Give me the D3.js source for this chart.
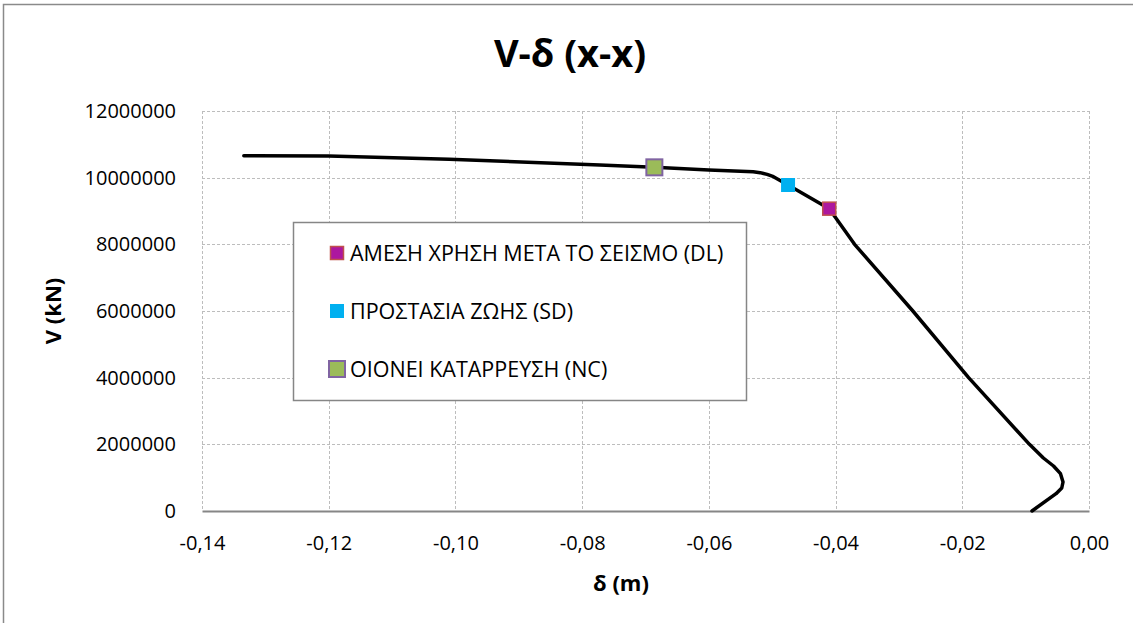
<!DOCTYPE html>
<html>
<head>
<meta charset="utf-8">
<script src="https://cdn.jsdelivr.net/npm/d3@7"></script>
<style>
	body { margin: 0; background: #fff; }
	svg text { font-family: "Open Sans", "Noto Sans", sans-serif; fill: #000; }
</style>
</head>
<body>
<svg id="chart" width="1133" height="623"></svg>
<script>

// pushover curve
var deltaValues = [-0.1334, -0.120, -0.101, -0.0772, -0.0686, -0.060, -0.0530, -0.0519, -0.0508, -0.0498,
	-0.0475, -0.0410, -0.0370, -0.0278, -0.0190, -0.0094, -0.0072, -0.0056, -0.0045, -0.0041, -0.0043,
	-0.0052, -0.0090];
var shearValues = [10660000, 10650000, 10550000, 10380000, 10310000, 10230000, 10180000, 10150000, 10100000, 10030000,
	9780000, 9070000, 8000000, 6000000, 4000000, 2000000, 1590000, 1350000, 1120000, 870000, 690000,
	520000, 0];

// performance levels
var levelNames = ["ΑΜΕΣΗ ΧΡΗΣΗ ΜΕΤΑ ΤΟ ΣΕΙΣΜΟ (DL)", "ΠΡΟΣΤΑΣΙΑ ΖΩΗΣ (SD)", "ΟΙΟΝΕΙ ΚΑΤΑΡΡΕΥΣΗ (NC)"];
var levelDelta = [-0.0410, -0.0475, -0.0686];
var levelShear = [9070000, 9780000, 10310000];

var xTicks = [-0.14, -0.12, -0.10, -0.08, -0.06, -0.04, -0.02, 0.00];
var yTicks = [0, 2000000, 4000000, 6000000, 8000000, 10000000, 12000000];

var levelStyles = [
	{ fill: "#AD179F", stroke: "#C0504D", strokeWidth: 1.5, size: 13 },
	{ fill: "#00B0F0", stroke: "none", strokeWidth: 0, size: 14 },
	{ fill: "#9BBB59", stroke: "#8064A2", strokeWidth: 2, size: 16 }
];

var svg = d3.select("#chart");
var plot = { left: 202, right: 1089, top: 111, bottom: 511 };

var x = d3.scaleLinear().domain([-0.14, 0]).range([plot.left, plot.right]);
var y = d3.scaleLinear().domain([0, 12000000]).range([plot.bottom, plot.top]);

var fmtX = function(d) { return d3.format(".2f")(d).replace(".", ",").replace("−", "-"); };

// chart frame (runs off the bottom/right of the picture)
svg.append("rect")
	.attr("x", 3.5).attr("y", 4.5)
	.attr("width", 1140).attr("height", 640)
	.attr("fill", "none")
	.attr("stroke", "#8a8a8a")
	.attr("stroke-width", 1.5);

// gridlines
var grid = svg.append("g").attr("stroke", "#bdbdbd").attr("stroke-width", 1).attr("stroke-dasharray", "3,2");
grid.selectAll("line.h")
	.data(yTicks.filter(function(d) { return d > 0; }))
	.enter().append("line")
	.attr("x1", plot.left).attr("x2", plot.right)
	.attr("y1", function(d) { return Math.round(y(d)) + 0.5; })
	.attr("y2", function(d) { return Math.round(y(d)) + 0.5; });
grid.selectAll("line.v")
	.data(xTicks)
	.enter().append("line")
	.attr("y1", plot.top).attr("y2", plot.bottom)
	.attr("x1", function(d) { return Math.round(x(d)) + 0.5; })
	.attr("x2", function(d) { return Math.round(x(d)) + 0.5; });

// x axis
var xAxis = svg.append("g")
	.attr("transform", "translate(0," + plot.bottom + ")")
	.call(d3.axisBottom(x).tickValues(xTicks).tickFormat(fmtX).tickSize(0).tickPadding(25));
xAxis.select(".domain").attr("stroke", "#868686").attr("stroke-width", 2);
xAxis.selectAll("text").attr("font-size", 20).attr("font-family", null).attr("fill", "#000");

// y axis
var yAxis = svg.append("g")
	.attr("transform", "translate(" + plot.left + ",0)")
	.call(d3.axisLeft(y).tickValues(yTicks).tickFormat(d3.format("d")).tickSize(0).tickPadding(26));
yAxis.select(".domain").remove();
yAxis.selectAll("text").attr("font-size", 20).attr("font-family", null).attr("fill", "#000");

// titles
svg.append("text")
	.attr("x", 570).attr("y", 67)
	.attr("text-anchor", "middle")
	.attr("font-size", 38).attr("font-weight", "bold")
	.text("V-δ (x-x)");

svg.append("text")
	.attr("x", 621).attr("y", 591)
	.attr("text-anchor", "middle")
	.attr("font-size", 22).attr("font-weight", "bold")
	.text("δ (m)");

svg.append("text")
	.attr("transform", "translate(61,311) rotate(-90)")
	.attr("text-anchor", "middle")
	.attr("font-size", 22).attr("font-weight", "bold")
	.text("V (kN)");

// curve
var points = deltaValues.map(function(d, i) { return [d, shearValues[i]]; });
var line = d3.line()
	.x(function(d) { return x(d[0]); })
	.y(function(d) { return y(d[1]); });

svg.append("path")
	.datum(points)
	.attr("d", line)
	.attr("fill", "none")
	.attr("stroke", "#000")
	.attr("stroke-width", 3.5)
	.attr("stroke-linejoin", "round")
	.attr("stroke-linecap", "round");

// level markers
svg.selectAll("rect.level")
	.data(levelDelta)
	.enter().append("rect")
	.attr("class", "level")
	.attr("x", function(d, i) { return x(d) - levelStyles[i].size / 2; })
	.attr("y", function(d, i) { return y(levelShear[i]) - levelStyles[i].size / 2; })
	.attr("width", function(d, i) { return levelStyles[i].size; })
	.attr("height", function(d, i) { return levelStyles[i].size; })
	.attr("fill", function(d, i) { return levelStyles[i].fill; })
	.attr("stroke", function(d, i) { return levelStyles[i].stroke; })
	.attr("stroke-width", function(d, i) { return levelStyles[i].strokeWidth; });

// legend
var legend = svg.append("g").attr("transform", "translate(293,222)");
legend.append("rect")
	.attr("x", 0.5).attr("y", 0.5)
	.attr("width", 453).attr("height", 178)
	.attr("fill", "#fff")
	.attr("stroke", "#868686")
	.attr("stroke-width", 1.5);

var entries = legend.selectAll("g.entry")
	.data(levelNames)
	.enter().append("g")
	.attr("class", "entry")
	.attr("transform", function(d, i) { return "translate(0," + (31 + i * 58) + ")"; });

entries.append("rect")
	.attr("x", function(d, i) { return 44 - levelStyles[i].size / 2; })
	.attr("y", function(d, i) { return -levelStyles[i].size / 2; })
	.attr("width", function(d, i) { return levelStyles[i].size; })
	.attr("height", function(d, i) { return levelStyles[i].size; })
	.attr("fill", function(d, i) { return levelStyles[i].fill; })
	.attr("stroke", function(d, i) { return levelStyles[i].stroke; })
	.attr("stroke-width", function(d, i) { return levelStyles[i].strokeWidth; });

entries.append("text")
	.attr("x", 57).attr("y", 0)
	.attr("dy", "0.36em")
	.attr("font-size", 21.5)
	.text(function(d) { return d; });

</script>
</body>
</html>
